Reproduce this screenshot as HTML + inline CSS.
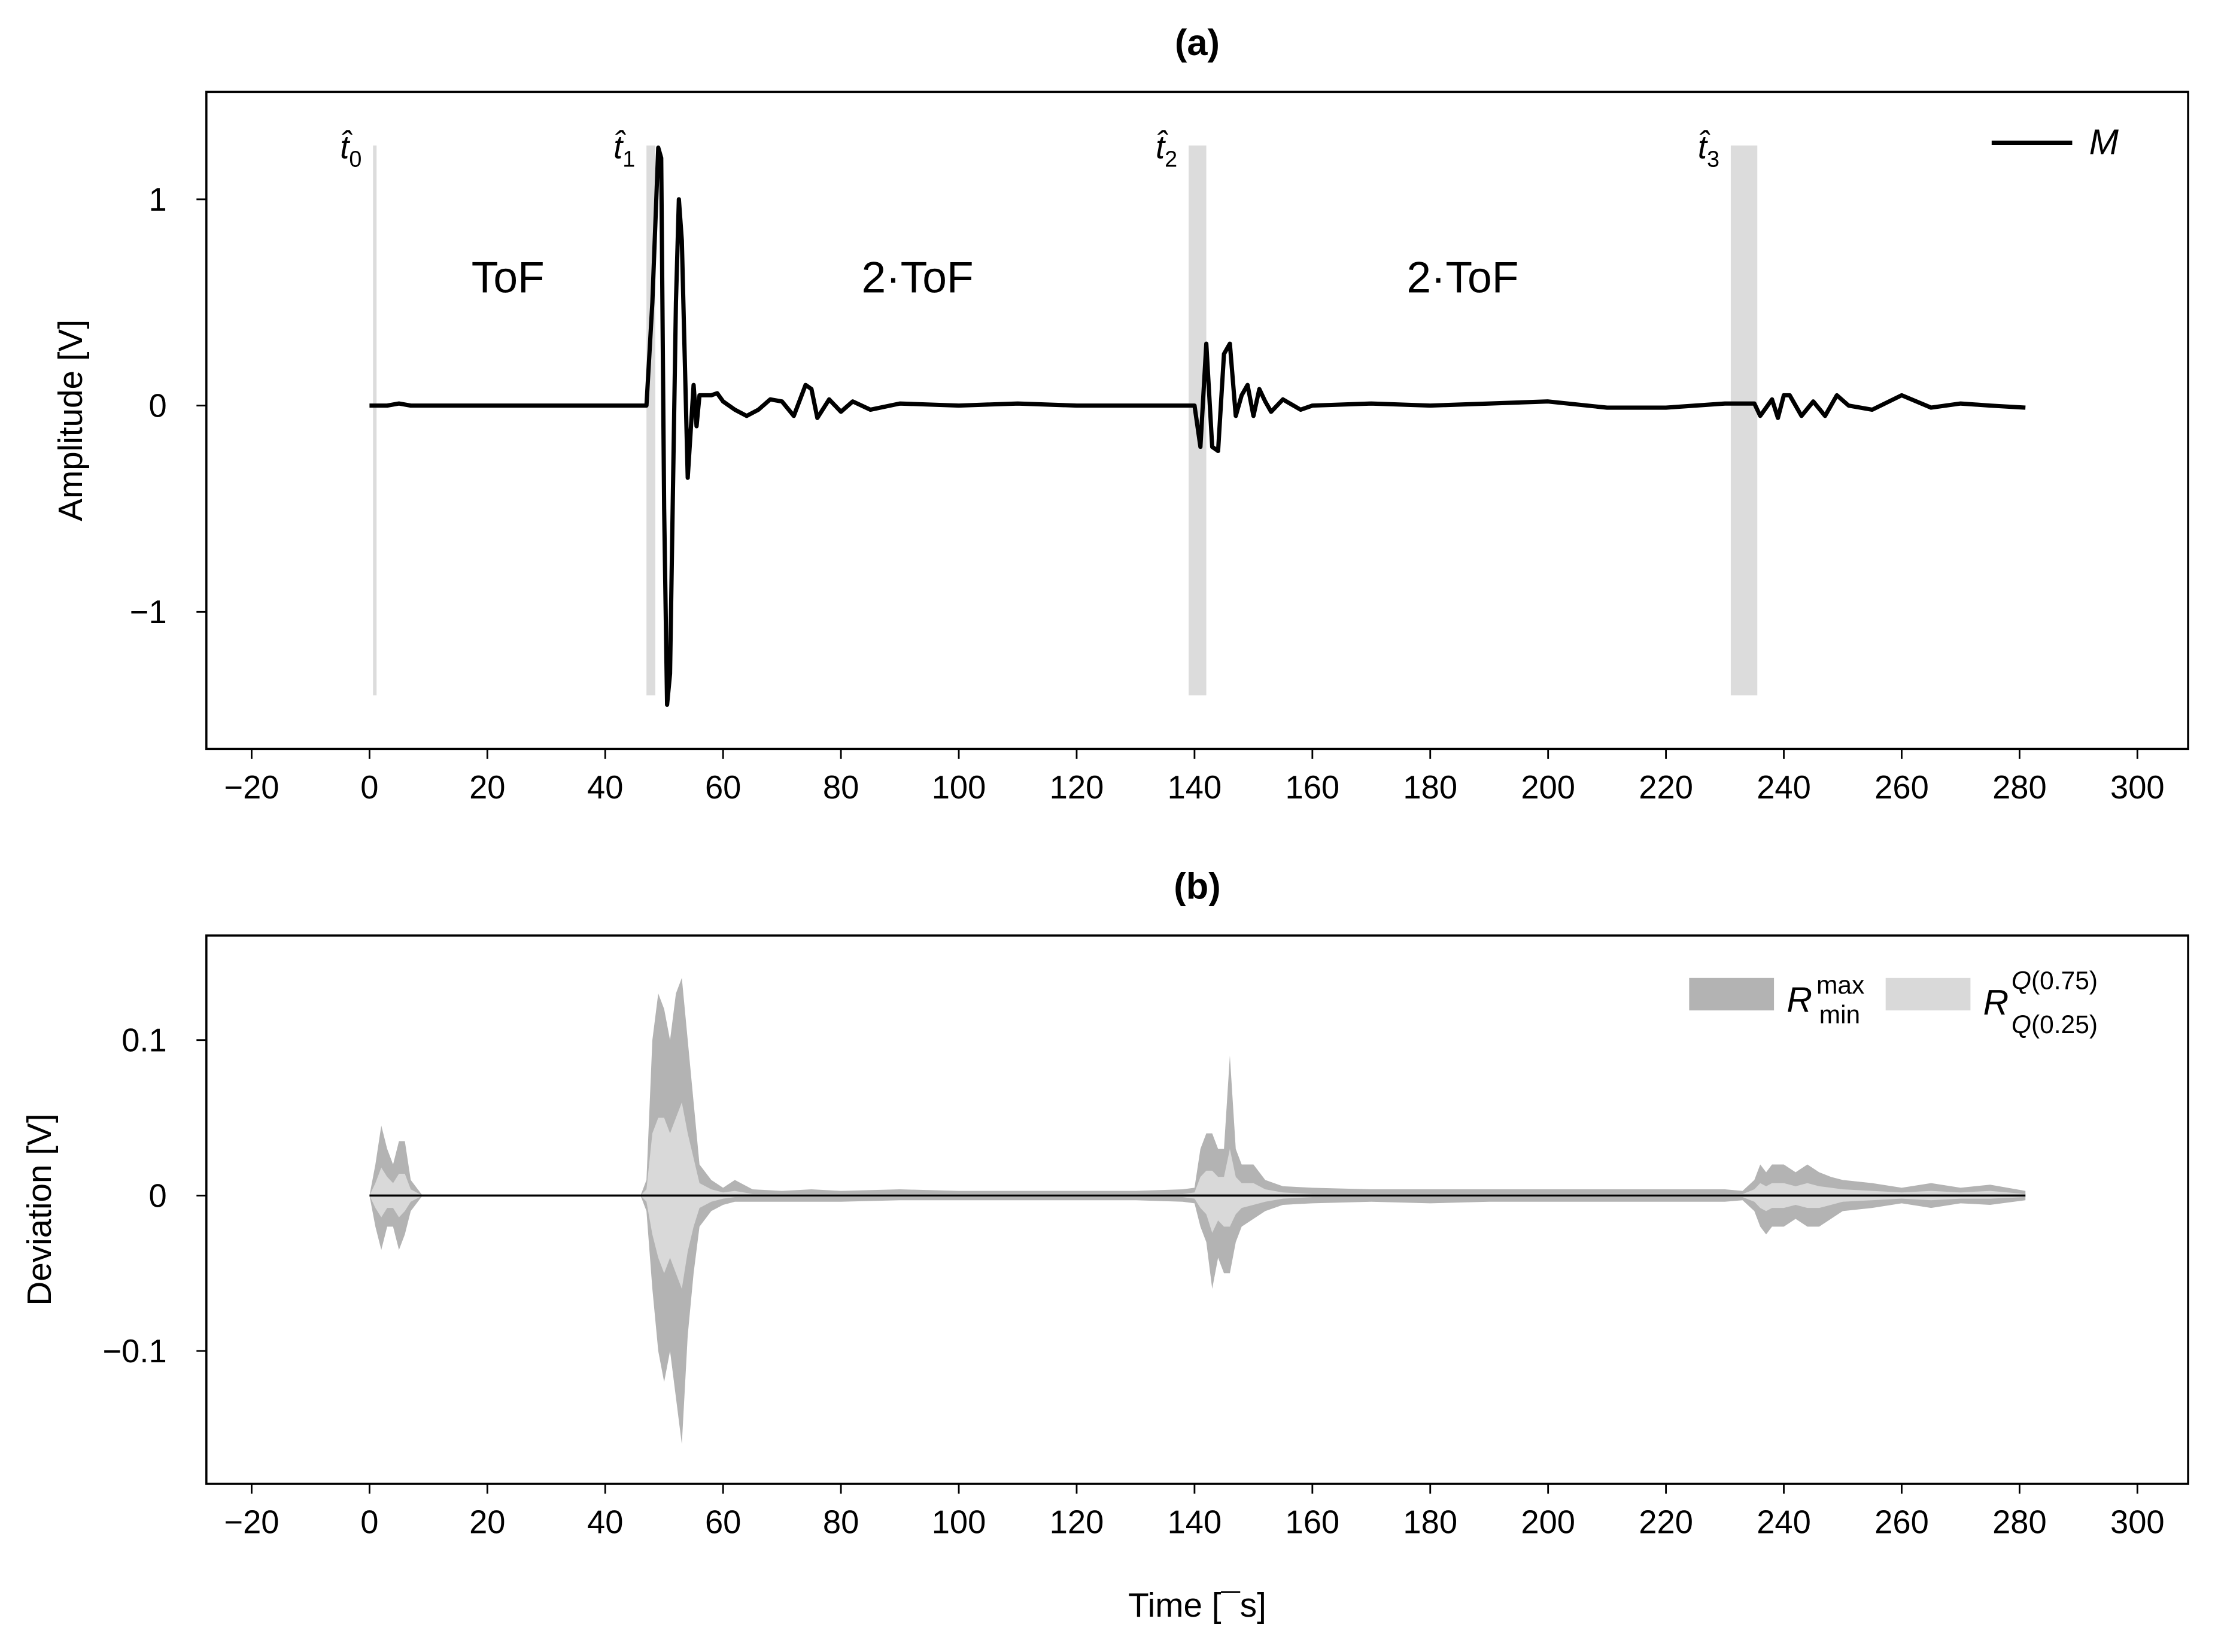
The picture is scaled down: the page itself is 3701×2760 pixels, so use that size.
<!DOCTYPE html>
<html><head><meta charset="utf-8"><style>html,body{margin:0;padding:0;background:#fff}svg{display:block}text{font-family:"Liberation Sans",sans-serif;fill:#000}</style></head>
<body>
<svg id="chart" width="3701" height="2760" viewBox="0 0 1567 1169" preserveAspectRatio="none" xmlns="http://www.w3.org/2000/svg">
<rect width="1567" height="1169" fill="#fff"/>
<g id="pa"></g>
<g id="pb"></g>
</svg>
<script>
const xTicks=[-20,0,20,40,60,80,100,120,140,160,180,200,220,240,260,280,300];
const aYTicks=[1,0,-1];const aYLabels=["1","0","\u22121"];
const bYTicks=[0.1,0,-0.1];const bYLabels=["0.1","0","\u22120.1"];
const mT=[0,3,5,7,8,20,40,46,47,48,49,49.5,50,50.5,51,52,52.5,53,54,55,55.5,56,57,58,59,60,62,64,66,68,70,72,74,75,76,78,80,82,85,90,100,110,120,130,140,141,142,143,144,145,146,147,148,149,150,151,152,153,155,158,160,170,180,190,200,210,220,230,235,236,238,239,240,241,243,245,247,249,251,255,260,265,270,275,281];
const mV=[0,0,0.01,0,0,0,0,0,0,0.5,1.25,1.2,-0.5,-1.45,-1.3,0.5,1.0,0.8,-0.35,0.1,-0.1,0.05,0.05,0.05,0.06,0.02,-0.02,-0.05,-0.02,0.03,0.02,-0.05,0.1,0.08,-0.06,0.03,-0.03,0.02,-0.02,0.01,0,0.01,0,0,0,-0.2,0.3,-0.2,-0.22,0.25,0.3,-0.05,0.05,0.1,-0.05,0.08,0.02,-0.03,0.03,-0.02,0,0.01,0,0.01,0.02,-0.01,-0.01,0.01,0.01,-0.05,0.03,-0.06,0.05,0.05,-0.05,0.02,-0.05,0.05,0,-0.02,0.05,-0.01,0.01,0,-0.01];
const bT=[0,1,2,3,4,5,6,7,8,9,12,20,30,40,46,47,48,49,50,51,52,53,54,55,56,58,60,62,65,70,75,80,90,100,120,130,138,140,141,142,143,144,145,146,147,148,150,152,155,160,170,180,190,200,210,220,230,233,235,236,237,238,240,242,244,246,248,250,255,260,265,270,275,281];
const bMax=[0,.02,.045,.03,.02,.035,.035,.01,.005,0,0,0,0,0,0,.01,.1,.13,.12,.1,.13,.14,.1,.06,.02,.01,.005,.01,.004,.003,.004,.003,.004,.003,.003,.003,.004,.005,.03,.04,.04,.03,.03,.09,.03,.02,.02,.01,.006,.005,.004,.004,.004,.004,.004,.004,.004,.003,.01,.02,.015,.02,.02,.015,.02,.015,.012,.01,.008,.005,.008,.005,.007,.003];
const bMin=[0,-.02,-.035,-.02,-.02,-.035,-.025,-.01,-.005,0,0,0,0,0,0,-.01,-.06,-.1,-.12,-.1,-.13,-.16,-.09,-.05,-.02,-.01,-.006,-.004,-.004,-.004,-.004,-.004,-.003,-.003,-.003,-.003,-.004,-.005,-.02,-.03,-.06,-.04,-.05,-.05,-.03,-.02,-.015,-.01,-.006,-.005,-.004,-.005,-.004,-.004,-.004,-.004,-.004,-.003,-.01,-.02,-.025,-.02,-.02,-.015,-.02,-.02,-.015,-.01,-.008,-.005,-.008,-.005,-.006,-.003];
const bQ75=[0,.008,.018,.012,.008,.014,.014,.004,.002,0,0,0,0,0,0,.004,.04,.05,.05,.04,.05,.06,.04,.024,.008,.004,.002,.003,.001,.001,.001,.001,.001,.001,.001,.001,.001,.002,.012,.016,.016,.012,.012,.03,.012,.008,.008,.004,.002,.001,.001,.001,.001,.001,.001,.001,.001,.001,.004,.008,.006,.008,.008,.006,.008,.006,.005,.004,.003,.002,.003,.002,.003,.001];
const bQ25=[0,-.008,-.014,-.008,-.008,-.014,-.01,-.004,-.002,0,0,0,0,0,0,-.004,-.025,-.04,-.05,-.04,-.05,-.06,-.036,-.02,-.008,-.004,-.002,-.001,-.001,-.001,-.001,-.001,-.001,-.001,-.001,-.001,-.001,-.002,-.008,-.012,-.024,-.016,-.02,-.02,-.012,-.008,-.006,-.004,-.002,-.001,-.001,-.001,-.001,-.001,-.001,-.001,-.001,-.001,-.004,-.008,-.01,-.008,-.008,-.006,-.008,-.008,-.006,-.004,-.003,-.002,-.003,-.002,-.002,-.001];
const markers=[[0.6,1.1],[47,48.5],[139,142],[231,235.5]];
const markerLabels=["0","1","2","3"];

const NS="http://www.w3.org/2000/svg";
const X=t=>261.4+t*4.169;
const aY=v=>287-v*146;
const bY=v=>846-v*1100;
function mk(p,tag,at,txt){const e=document.createElementNS(NS,tag);for(const k in at)e.setAttribute(k,at[k]);if(txt!==undefined)e.textContent=txt;p.appendChild(e);return e;}
function axes(g,top,bot,yT,yL,yf,title,ylab,ylabX){
  for(let i=0;i<xTicks.length;i++){const x=X(xTicks[i]);
    const t=mk(g,"line",{x1:x,x2:x,y1:bot,y2:bot+7,stroke:"#000","stroke-width":1.2});
    
    const l=mk(g,"text",{x:x,y:bot+35,"text-anchor":"middle","font-size":23},xTicks[i]<0?"\u2212"+(-xTicks[i]):String(xTicks[i]));
    }
  for(let i=0;i<yT.length;i++){const y=yf(yT[i]);
    const t=mk(g,"line",{x1:139,x2:146,y1:y,y2:y,stroke:"#000","stroke-width":1.2});
    
    const l=mk(g,"text",{x:118,y:y+8,"text-anchor":"end","font-size":23},yL[i]);
    }
  const f=mk(g,"rect",{x:146,y:top,width:1402,height:bot-top,fill:"none",stroke:"#000","stroke-width":1.5});
  
  const ti=mk(g,"text",{x:847,y:top-26,"text-anchor":"middle","font-size":26,"font-weight":"bold"},title);
  
  const yl=mk(g,"text",{x:0,y:0,"text-anchor":"middle","font-size":24,transform:`translate(${ylabX},${(top+bot)/2}) rotate(-90)`},ylab);
  
}
const pa=document.getElementById("pa"),pb=document.getElementById("pb");
for(let i=0;i<markers.length;i++){const m=markers[i];
  const r=mk(pa,"rect",{x:X(m[0]),y:103,width:Math.max(2.5,X(m[1])-X(m[0])),height:389,fill:"#dcdcdc"});
  
  const l=mk(pa,"text",{x:X(m[0])-8,y:112,"text-anchor":"end","font-size":23,"font-style":"italic"});
  
  l.innerHTML=`t\u0302<tspan dy="6" font-size="16" font-style="normal">${markerLabels[i]}</tspan>`;}
const tofLabels=[["ToF",23.5],["2\u00b7ToF",93],["2\u00b7ToF",185.5]];
for(const [s,t] of tofLabels){const e=mk(pa,"text",{x:X(t),y:207,"text-anchor":"middle","font-size":31},s);
  }
let d="";for(let i=0;i<mT.length;i++)d+=(i?"L":"M")+X(mT[i]).toFixed(2)+","+aY(mV[i]).toFixed(2);
const ln=mk(pa,"path",{d:d,fill:"none",stroke:"#000","stroke-width":3,"stroke-linejoin":"round"});

axes(pa,65,530,aYTicks,aYLabels,aY,"(a)","Amplitude [V]",58);
const lg=mk(pa,"line",{x1:1409,x2:1466,y1:101,y2:101,stroke:"#000","stroke-width":3});

const lgt=mk(pa,"text",{x:1478,y:109,"font-size":25,"font-style":"italic"},"M");

function band(hi,lo,fill,name){let s="";for(let i=0;i<bT.length;i++)s+=(i?"L":"M")+X(bT[i]).toFixed(2)+","+bY(hi[i]).toFixed(2);
  for(let i=bT.length-1;i>=0;i--)s+="L"+X(bT[i]).toFixed(2)+","+bY(lo[i]).toFixed(2);
  const p=mk(pb,"path",{d:s+"Z",fill:fill});}
band(bMax,bMin,"#b3b3b3","band-min-max");
band(bQ75,bQ25,"#d9d9d9","band-quartiles");
const zl=mk(pb,"line",{x1:X(0),x2:X(281),y1:bY(0),y2:bY(0),stroke:"#000","stroke-width":1.5});

axes(pb,662,1050,bYTicks,bYLabels,bY,"(b)","Deviation [V]",36);
const s1=mk(pb,"rect",{x:1195,y:692,width:60,height:23,fill:"#b3b3b3"});
const t1=mk(pb,"text",{x:1264,y:716,"font-size":25});
t1.innerHTML='<tspan font-style="italic">R</tspan><tspan x="1285" y="703" font-size="18">max</tspan><tspan x="1287" y="724" font-size="18">min</tspan>';
const s2=mk(pb,"rect",{x:1334,y:692,width:60,height:23,fill:"#d9d9d9"});
const t2=mk(pb,"text",{x:1403,y:718,"font-size":25});
t2.innerHTML='<tspan font-style="italic">R</tspan><tspan x="1423" y="700" font-size="18"><tspan font-style="italic">Q</tspan>(0.75)</tspan><tspan x="1423" y="731" font-size="18"><tspan font-style="italic">Q</tspan>(0.25)</tspan>';
const xt=mk(pb,"text",{x:847,y:1144,"text-anchor":"middle","font-size":24},"Time [\u00afs]");

</script>
</body></html>
